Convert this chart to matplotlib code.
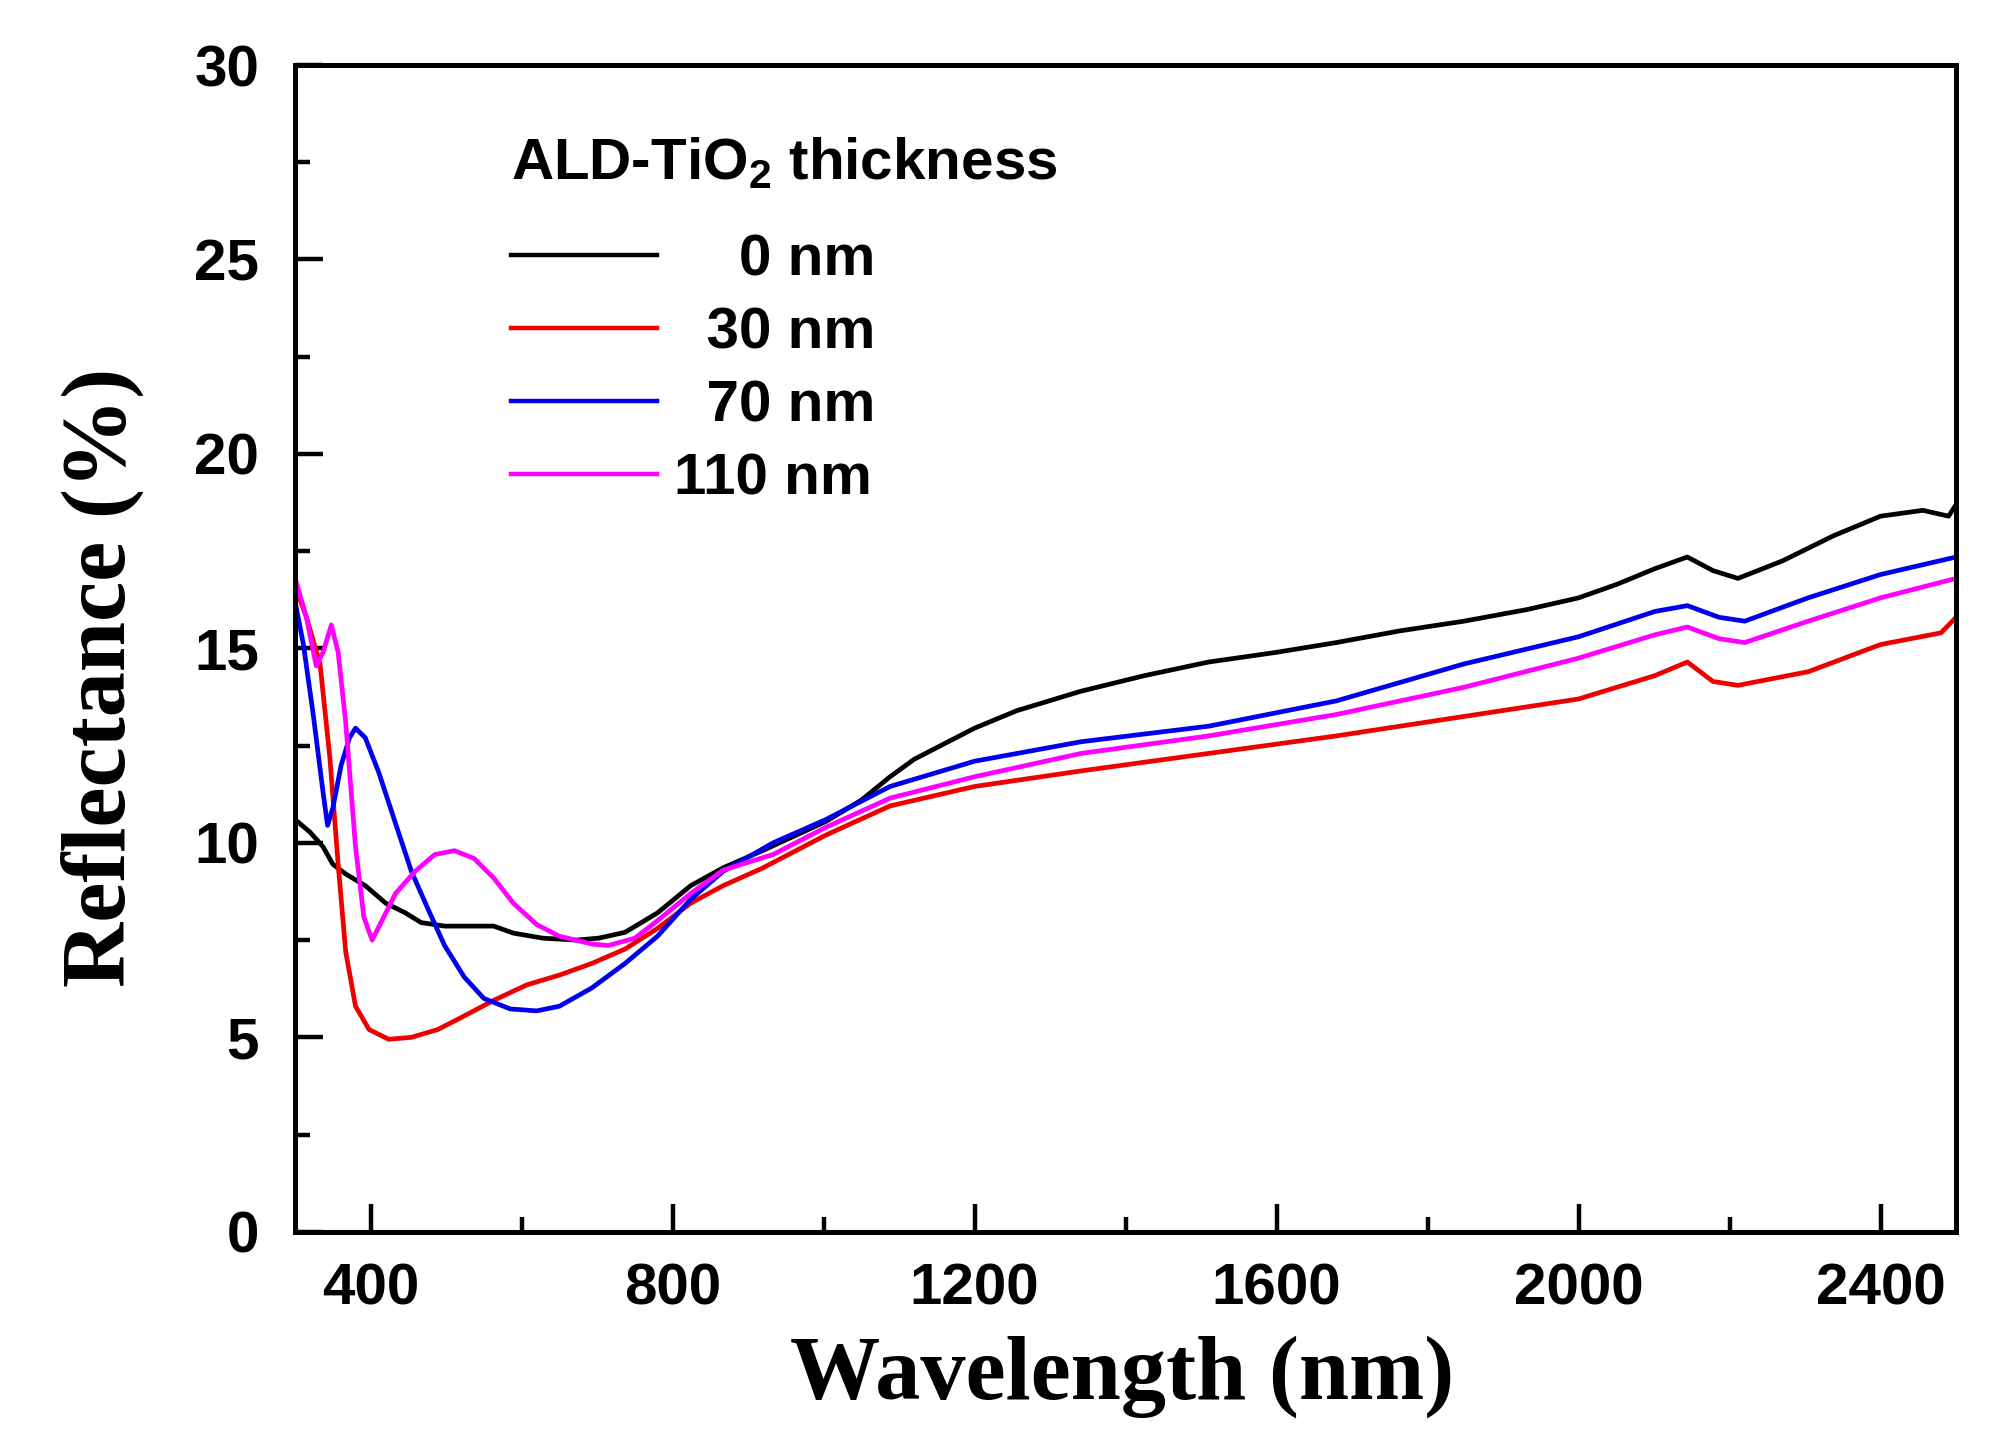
import matplotlib
matplotlib.use("Agg")
import matplotlib.pyplot as plt
from matplotlib.ticker import MultipleLocator

plt.rcParams['font.family'] = ['Liberation Sans', 'DejaVu Sans']
plt.rcParams['mathtext.fontset'] = 'custom'
plt.rcParams['mathtext.rm'] = 'Liberation Sans:bold'
plt.rcParams['mathtext.it'] = 'Liberation Sans:bold'
plt.rcParams['mathtext.bf'] = 'Liberation Sans:bold'

# ---- data ----
labels = ["    0 nm", "  30 nm", "  70 nm", "110 nm"]
legend_title = "ALD-TiO$_2$ thickness"
colors = ["#000000", "#ee0000", "#0000ee", "#ff00ff"]

wl_0 = [300, 320, 337, 350, 367, 393, 420, 446, 467, 498, 528, 563, 589, 628, 672, 702,
        737, 780, 824, 867, 919, 1003, 1050, 1088, 1120, 1155, 1200, 1256, 1341, 1425,
        1510, 1600, 1679, 1763, 1848, 1932, 2000, 2051, 2101, 2144, 2178, 2211, 2270,
        2338, 2400, 2456, 2490, 2500]
r_0 = [10.6, 10.27, 9.9, 9.45, 9.2, 8.9, 8.45, 8.2, 7.95, 7.86, 7.86, 7.86, 7.68, 7.55,
       7.5, 7.55, 7.7, 8.2, 8.9, 9.36, 9.8, 10.55, 11.1, 11.7, 12.15, 12.5, 12.95, 13.4,
       13.9, 14.3, 14.65, 14.9, 15.15, 15.45, 15.7, 16.0, 16.3, 16.65, 17.05, 17.35, 17.0,
       16.8, 17.25, 17.9, 18.4, 18.55, 18.4, 18.7]

wl_30 = [300, 315, 333, 346, 357, 367, 380, 398, 424, 454, 489, 524, 563, 607, 650, 693,
         737, 780, 824, 867, 919, 1003, 1088, 1200, 1341, 1510, 1679, 1848, 2000, 2101,
         2144, 2178, 2211, 2304, 2400, 2480, 2500]
r_30 = [16.6, 15.8, 14.6, 12.2, 9.45, 7.2, 5.8, 5.2, 4.95, 5.0, 5.2, 5.55, 5.95, 6.35,
        6.6, 6.9, 7.27, 7.8, 8.45, 8.9, 9.35, 10.2, 10.95, 11.45, 11.85, 12.3, 12.75,
        13.25, 13.7, 14.3, 14.65, 14.15, 14.05, 14.4, 15.1, 15.4, 15.8]

wl_70 = [300, 311, 324, 337, 343, 350, 361, 372, 380, 393, 411, 433, 454, 476, 498, 524,
         550, 585, 620, 650, 693, 737, 780, 824, 867, 933, 1003, 1088, 1200, 1341, 1510,
         1679, 1848, 2000, 2101, 2144, 2186, 2220, 2304, 2400, 2500]
r_70 = [16.2, 15.1, 13.3, 11.3, 10.45, 10.9, 12.0, 12.7, 12.95, 12.7, 11.8, 10.5, 9.27,
        8.3, 7.36, 6.55, 6.0, 5.73, 5.68, 5.8, 6.27, 6.9, 7.6, 8.55, 9.27, 10.0, 10.6,
        11.45, 12.1, 12.6, 13.0, 13.65, 14.6, 15.3, 15.95, 16.1, 15.8, 15.7, 16.3, 16.9,
        17.35]

wl_110 = [300, 315, 328, 337, 348, 357, 367, 380, 391, 402, 415, 433, 459, 485, 511, 537,
          563, 589, 620, 650, 693, 715, 750, 780, 824, 867, 933, 1003, 1088, 1200, 1341,
          1510, 1679, 1848, 2000, 2101, 2144, 2186, 2220, 2304, 2400, 2500]
r_110 = [16.8, 15.8, 14.55, 14.9, 15.6, 14.9, 13.1, 9.9, 8.1, 7.5, 8.0, 8.7, 9.27, 9.7,
         9.8, 9.6, 9.1, 8.45, 7.9, 7.6, 7.4, 7.36, 7.55, 8.0, 8.7, 9.3, 9.7, 10.4, 11.15,
         11.7, 12.3, 12.75, 13.3, 14.0, 14.75, 15.35, 15.55, 15.25, 15.15, 15.7, 16.3, 16.8]

series = [(wl_0, r_0), (wl_30, r_30), (wl_70, r_70), (wl_110, r_110)]

x_ticks = [400, 800, 1200, 1600, 2000, 2400]
y_ticks = [0, 5, 10, 15, 20, 25, 30]

# ---- figure ----
fig = plt.figure(figsize=(19.94, 14.29), dpi=100)
ax = fig.add_axes([0.148, 0.138, 0.833, 0.8165])

for (wl, r), c, lab in zip(series, colors, labels):
    ax.plot(wl, r, color=c, lw=3.4, label=lab, solid_joinstyle='round')

ax.set_xlim(300, 2500)
ax.set_ylim(0, 30)
ax.set_xticks(x_ticks)
ax.set_yticks(y_ticks)
ax.xaxis.set_minor_locator(MultipleLocator(200))
ax.yaxis.set_minor_locator(MultipleLocator(2.5))

for s in ax.spines.values():
    s.set_linewidth(3.6)
ax.tick_params(which='major', direction='in', length=20, width=3.2, labelsize=42, pad=22)
ax.tick_params(which='minor', direction='in', length=11, width=3.2)
ax.tick_params(axis='y', which='major', pad=26)
for t in ax.get_xticklabels() + ax.get_yticklabels():
    t.set_fontweight('bold')

ax.set_xlabel("Wavelength (nm)", family=['Liberation Serif'], fontweight='bold',
              fontsize=65)
ax.set_ylabel("Reflectance (%)", family=['Liberation Serif'], fontweight='bold',
              fontsize=65)
ax.xaxis.set_label_coords(0.498, -0.089)
ax.yaxis.set_label_coords(-0.091, 0.475)

ax.text(0.130, 0.9023, legend_title, transform=ax.transAxes, fontsize=42,
        fontweight='bold', ha='left', va='baseline')

leg = ax.legend(loc='upper left', bbox_to_anchor=(0.130, 0.856), frameon=False,
                prop={'family': 'Liberation Sans', 'weight': 'bold', 'size': 42},
                handlelength=2.5, handletextpad=0.3, labelspacing=0.33,
                borderpad=0, borderaxespad=0)
for line in leg.get_lines():
    line.set_linewidth(3.2)

fig.savefig("out.png", dpi=100)
